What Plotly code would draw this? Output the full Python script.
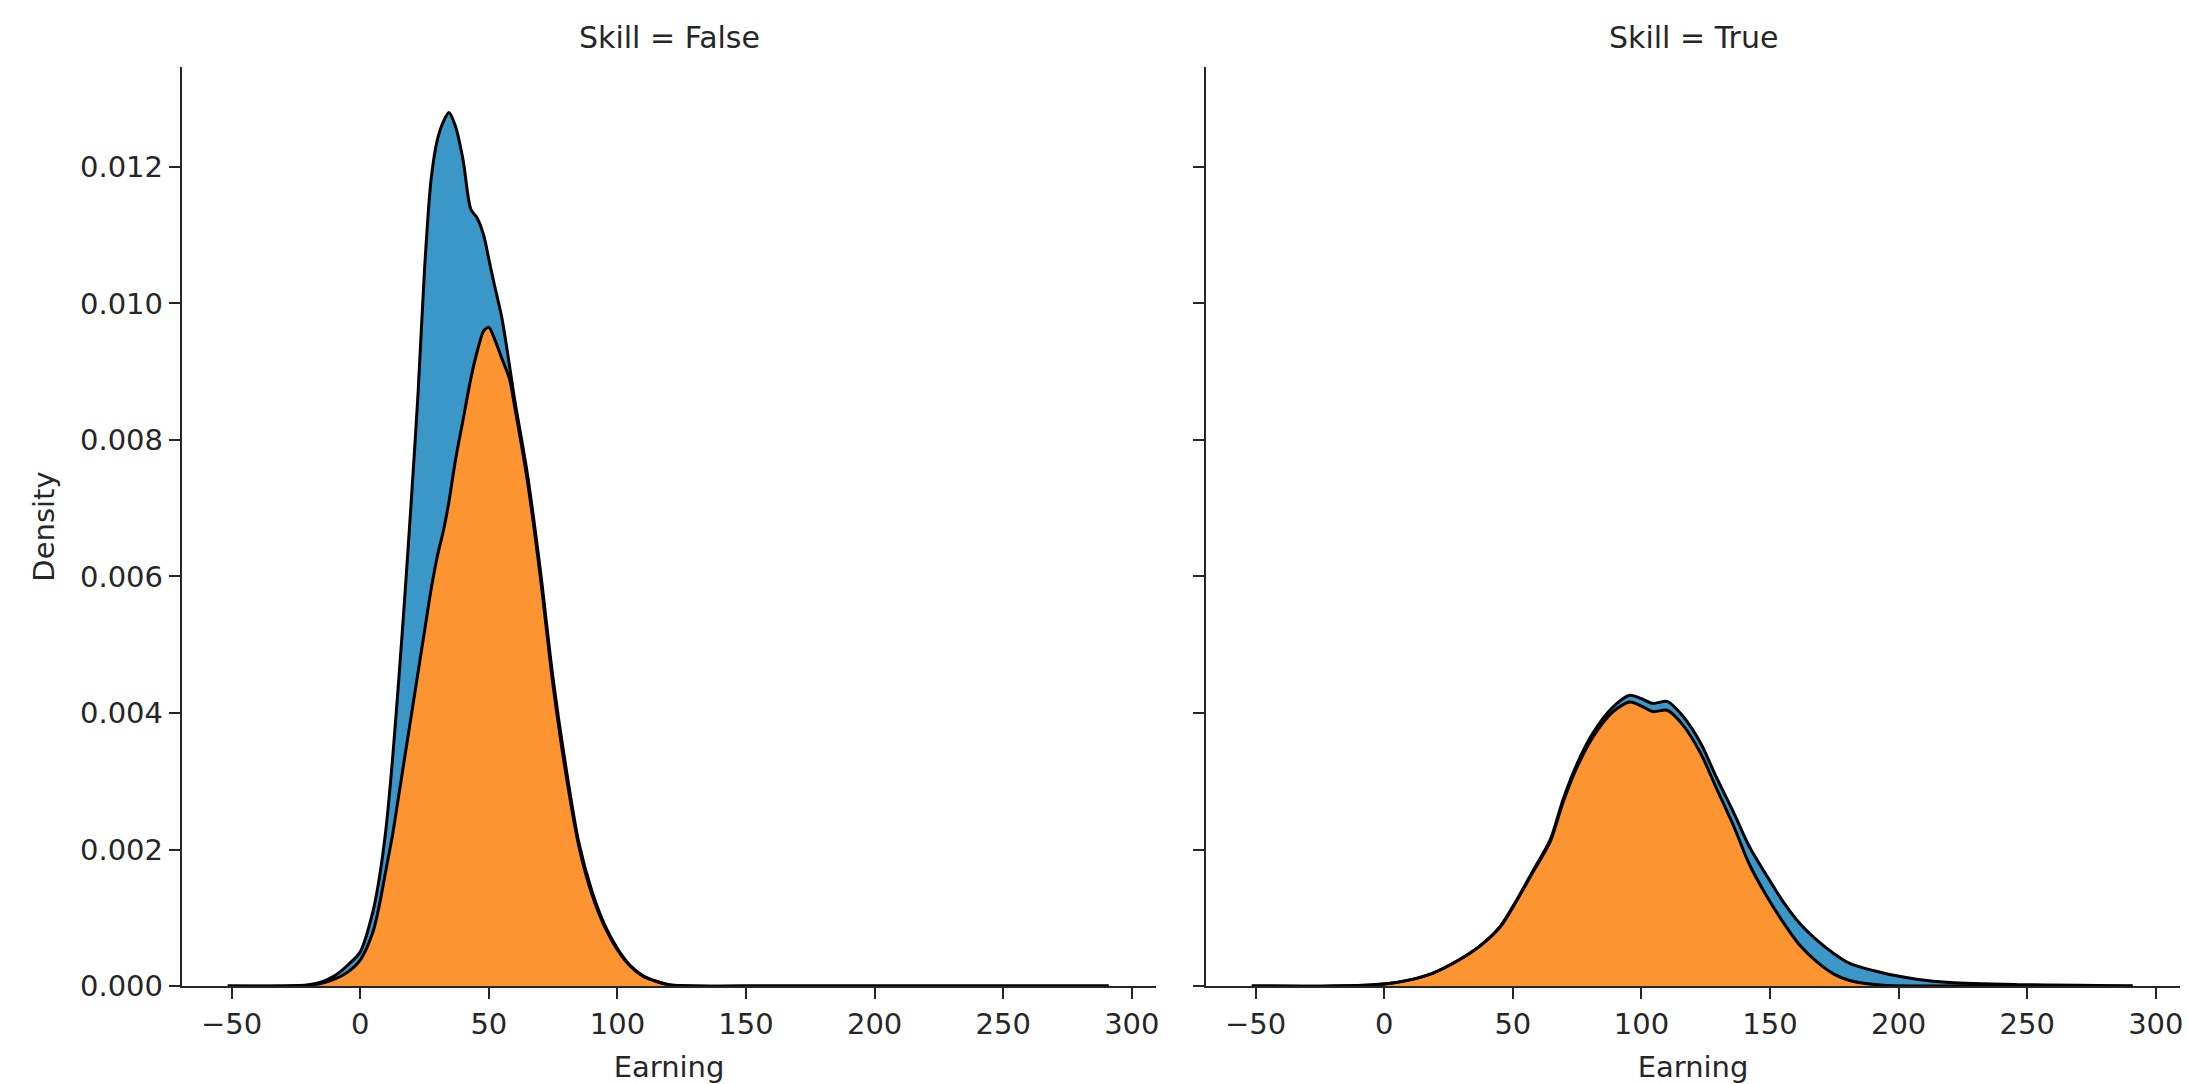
import plotly.graph_objects as go

# Stacked kernel density estimates of earnings, one panel per skill level.
# Each panel stacks two groups: the orange group at the bottom, the blue one on top.

# ---- Skill = False ----
earning_false = [-51.5, -30, -20, -15, -10, -5, 0, 5, 7.5, 10, 12.5, 15, 17.5, 20, 22.5, 25,
                 27.5, 30, 32.5, 34.5, 37, 40, 43, 45.5, 48, 50, 52, 55, 58, 60, 65, 70, 75,
                 80, 85, 90, 95, 100, 105, 110, 115, 120, 130, 160, 200, 250, 291]
density_false_orange = [0, 0, 0.00001, 0.00004, 0.0001, 0.0002, 0.00038, 0.0008, 0.0012, 0.0017,
                        0.0022, 0.0028, 0.0034, 0.0040, 0.0046, 0.0052, 0.0058, 0.0063, 0.0067,
                        0.0071, 0.0077, 0.0083, 0.0089, 0.0093, 0.0096, 0.00965, 0.0095, 0.0092,
                        0.0089, 0.0085, 0.0074, 0.0060, 0.0044, 0.0031, 0.00205, 0.00135, 0.00087,
                        0.00053, 0.00029, 0.00014, 0.00007, 0.00002, 0, 0, 0, 0, 0]
density_false_blue = [0, 0, 0.00001, 0.00002, 0.00005, 0.0001, 0.00012, 0.0003, 0.0004, 0.0006,
                      0.0011, 0.0017, 0.0024, 0.0032, 0.0041, 0.0053, 0.0060, 0.0061, 0.00598,
                      0.0057, 0.0049, 0.0038, 0.00248, 0.00195, 0.0014, 0.001, 0.0008, 0.0006,
                      0.0002, 0.0001, 0.0001, 0.0001, 0.0001, 0.0001, 0.00005, 0.00005, 0.00003,
                      0.00002, 0.00001, 0.00001, 0, 0, 0, 0, 0, 0, 0]

# ---- Skill = True ----
earning_true = [-51.5, -20, 0, 10, 19, 29, 37, 45, 51.5, 58, 64.5, 69.5, 75, 81, 89, 95.5, 100,
                104.5, 110, 116, 123, 129, 136, 142, 148.5, 155, 161.5, 168, 175, 181, 194, 207,
                220, 246, 270, 291]
density_true_orange = [0, 0, 0.00003, 0.00009, 0.00019, 0.00038, 0.00058, 0.00086, 0.00125,
                       0.00168, 0.00211, 0.00269, 0.00321, 0.00364, 0.00402, 0.00416, 0.00410,
                       0.00402, 0.00404, 0.00383, 0.00341, 0.00291, 0.00233, 0.00178, 0.00133,
                       0.00094, 0.0006, 0.00036, 0.00017, 0.00008, 0.00001, 0, 0, 0, 0, 0]
density_true_blue = [0, 0, 0, 0, 0, 0, 0, 0.00001, 0.00001, 0.00002, 0.00003, 0.00004, 0.00005,
                     0.00006, 0.00007, 0.0001, 0.00011, 0.00012, 0.00013, 0.00013, 0.00015,
                     0.00016, 0.0002, 0.00026, 0.0003, 0.0003, 0.00032, 0.00032, 0.0003, 0.00025,
                     0.00018, 0.0001, 0.00005, 0.00002, 0.00001, 0]

panel_titles = ["Skill = False", "Skill = True"]
x_ticks = [-50, 0, 50, 100, 150, 200, 250, 300]
x_tick_text = ["\u221250", "0", "50", "100", "150", "200", "250", "300"]
y_ticks = [0, 0.002, 0.004, 0.006, 0.008, 0.010, 0.012]
y_tick_text = ["0.000", "0.002", "0.004", "0.006", "0.008", "0.010", "0.012"]

ORANGE = "#fc9432"
BLUE = "#3b97c7"
INK = "#262626"
FONT = "DejaVu Sans"
W, H = 2188, 1084

fig = go.Figure()

panels = [
    ("x", "y", earning_false, density_false_orange, density_false_blue, "f"),
    ("x2", "y2", earning_true, density_true_orange, density_true_blue, "t"),
]
for xa, ya, xs, orange, blue, grp in panels:
    fig.add_trace(go.Scatter(
        x=xs, y=orange, xaxis=xa, yaxis=ya, stackgroup=grp, mode="lines",
        line=dict(color="black", width=3, shape="spline", smoothing=0.8),
        fillcolor=ORANGE, hoverinfo="skip", showlegend=False))
    fig.add_trace(go.Scatter(
        x=xs, y=blue, xaxis=xa, yaxis=ya, stackgroup=grp, mode="lines",
        line=dict(color="black", width=3, shape="spline", smoothing=0.8),
        fillcolor=BLUE, hoverinfo="skip", showlegend=False))

x_dom = [[182 / W, 1156 / W], [1206 / W, 2180 / W]]
y_dom = [1 - 986 / H, 1 - 67 / H]

common_x = dict(
    range=[-69.3, 309.4], tickmode="array", tickvals=x_ticks, ticktext=x_tick_text,
    showline=True, linecolor=INK, linewidth=2.4, ticks="outside", ticklen=11,
    tickwidth=2, tickcolor=INK, showgrid=False, zeroline=False,
    tickfont=dict(family=FONT, size=29, color=INK),
    title=dict(text="Earning", font=dict(family=FONT, size=29, color=INK), standoff=17),
    automargin=False, fixedrange=True,
)
common_y = dict(
    range=[0, 0.013465], tickmode="array", tickvals=y_ticks, ticktext=y_tick_text,
    showline=True, linecolor=INK, linewidth=2.4, ticks="outside", ticklen=11,
    tickwidth=2, tickcolor=INK, showgrid=False, zeroline=False, domain=y_dom,
    tickfont=dict(family=FONT, size=29, color=INK), automargin=False, fixedrange=True,
)

fig.update_layout(
    width=W, height=H,
    margin=dict(l=0, r=0, t=0, b=0),
    paper_bgcolor="white", plot_bgcolor="white",
    xaxis=dict(common_x, domain=x_dom[0], anchor="y"),
    xaxis2=dict(common_x, domain=x_dom[1], anchor="y2"),
    yaxis=dict(common_y, anchor="x",
               title=dict(text="Density", font=dict(family=FONT, size=29, color=INK),
                          standoff=17)),
    yaxis2=dict(common_y, anchor="x2", matches="y", showticklabels=False),
)

for title, dom in zip(panel_titles, x_dom):
    fig.add_annotation(
        text=title, x=(dom[0] + dom[1]) / 2, y=1 - 37 / H, xref="paper", yref="paper",
        xanchor="center", yanchor="middle", showarrow=False,
        font=dict(family=FONT, size=30, color=INK))

fig.write_html("out.html")
